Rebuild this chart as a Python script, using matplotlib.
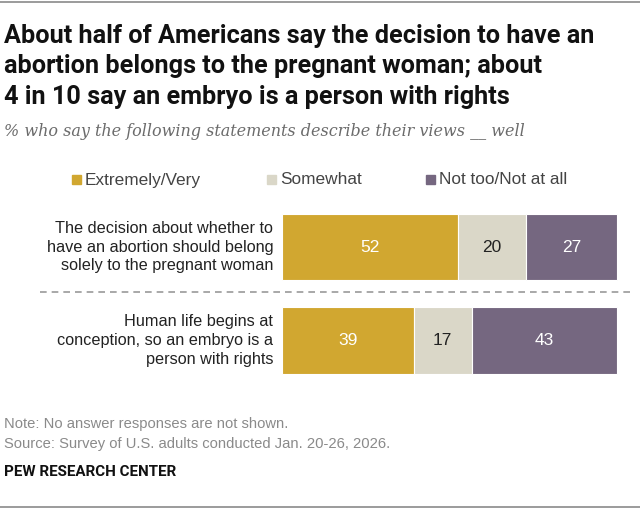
import matplotlib
matplotlib.use("Agg")
import matplotlib.pyplot as plt
from matplotlib.patches import Rectangle
from matplotlib.lines import Line2D

categories = [
    "The decision about whether to\nhave an abortion should belong\nsolely to the pregnant woman",
    "Human life begins at\nconception, so an embryo is a\nperson with rights",
]
series_names = ["Extremely/Very", "Somewhat", "Not too/Not at all"]
extremely_very = [52, 39]
somewhat = [20, 17]
not_too = [27, 43]
series_values = [extremely_very, somewhat, not_too]
colors = ["#D1A730", "#DAD7C8", "#756780"]
text_colors = ["white", "#222222", "white"]

W, H = 640, 512
fig = plt.figure(figsize=(W / 100, H / 100), dpi=100)
fig.patch.set_facecolor("white")

def fx(px):
    return px / W

def fy(py):
    return 1 - py / H

sans = ["Liberation Sans", "DejaVu Sans"]

# top rule
fig.add_artist(Line2D([0, 1], [fy(2), fy(2)], color="#8a8a8a", lw=1.2))

title_lines = ["About half of Americans say the decision to have an",
               "abortion belongs to the pregnant woman; about",
               "4 in 10 say an embryo is a person with rights"]
for i, line in enumerate(title_lines):
    fig.text(fx(4), fy(36 + 30.5 * i), line, ha="left", va="center", fontsize=18.2,
             fontweight="bold", family=["Roboto", "DejaVu Sans"], color="#111111")

fig.text(fx(4), fy(132), "% who say the following statements describe their views __ well",
         ha="left", va="center", fontsize=11.5, style="italic",
         family=["DejaVu Serif"], color="#6b6b6b")

# legend
leg_x = [72, 267, 426]
for lx, name, c in zip(leg_x, series_names, colors):
    fig.add_artist(Rectangle((fx(lx), fy(184)), 9 / W, 9 / H, color=c,
                             transform=fig.transFigure))
    fig.text(fx(lx + 13), fy(180), name, ha="left", va="center", fontsize=12.4,
             family=sans, color="#444444")

# axes
ax_left, ax_right = 282, 620.5
ax_top, ax_bot = 200, 388
ax = fig.add_axes([fx(ax_left), fy(ax_bot), (ax_right - ax_left) / W,
                   (ax_bot - ax_top) / H])
ax.set_xlim(0, 100)
ax.set_ylim(1.508, -0.5027)
ax.axis("off")

ypos = list(range(len(categories)))
left = [0] * len(categories)
for vals, c, tc in zip(series_values, colors, text_colors):
    ax.barh(ypos, vals, left=left, height=0.706, color=c, edgecolor="white",
            linewidth=0.8)
    for y, v, l in zip(ypos, vals, left):
        ax.text(l + v / 2, y, str(v), ha="center", va="center", fontsize=12.5,
                family=sans, color=tc)
    left = [a + b for a, b in zip(left, vals)]

for y, cat in zip(ypos, categories):
    ax.text(-2.6, y, cat, ha="right", va="center", fontsize=11.7, family=sans,
            color="#222222", linespacing=1.3, transform=ax.transData)

# dashed separator
fig.add_artist(Line2D([fx(40), fx(632)], [fy(292), fy(292)], color="#9a9a9a",
                      lw=1.2, ls=(0, (4, 3))))

fig.text(fx(4), fy(424), "Note: No answer responses are not shown.", ha="left",
         va="center", fontsize=10.6, family=sans, color="#8a8a8a")
fig.text(fx(4), fy(444), "Source: Survey of U.S. adults conducted Jan. 20-26, 2026.",
         ha="left", va="center", fontsize=10.6, family=sans, color="#8a8a8a")
fig.text(fx(4), fy(472), "PEW RESEARCH CENTER", ha="left", va="center",
         fontsize=10.9, fontweight="bold", family=["Roboto", "DejaVu Sans"],
         color="#111111")

fig.add_artist(Line2D([0, 1], [fy(507), fy(507)], color="#8a8a8a", lw=1.2))

fig.savefig("out.png", dpi=100, facecolor="white")
